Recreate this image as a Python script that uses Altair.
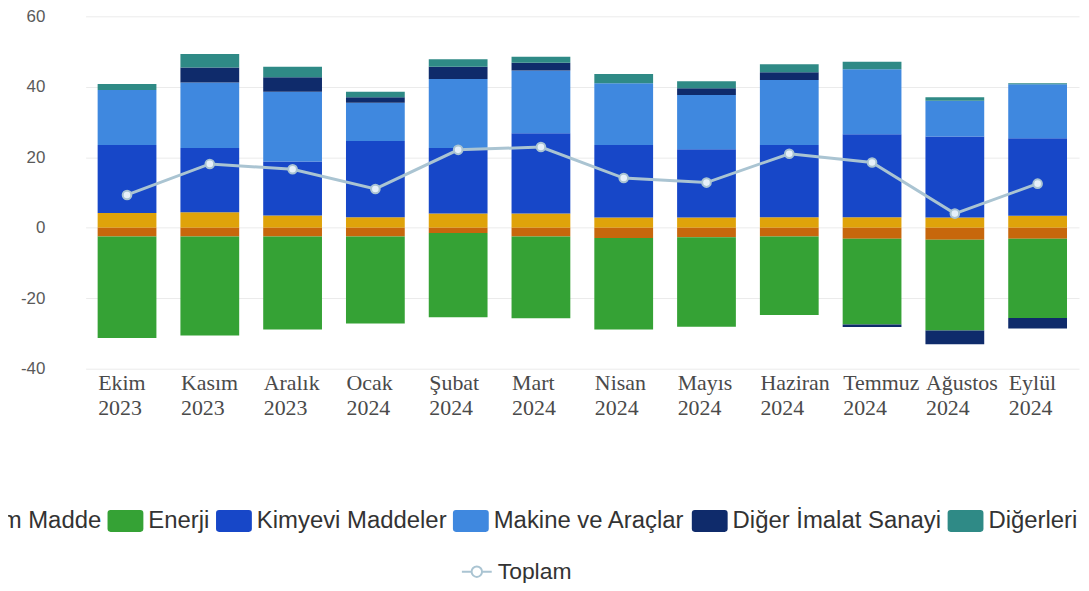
import altair as alt
import pandas as pd

months = ["Ekim 2023", "Kasım 2023", "Aralık 2023", "Ocak 2024", "Şubat 2024", "Mart 2024",
          "Nisan 2024", "Mayıs 2024", "Haziran 2024", "Temmuz 2024", "Ağustos 2024", "Eylül 2024"]

names = ["Tarım Ürünleri", "Ham Madde", "Enerji", "Kimyevi Maddeler", "Makine ve Araçlar",
         "Diğer İmalat Sanayi", "Diğerleri"]
colors = ["#dfa30a", "#c7670c", "#35a235", "#1747c8", "#3f88df", "#0f2b6b", "#2f8a86"]

tarim = [4.2, 4.4, 3.5, 3.0, 4.0, 4.0, 2.9, 2.9, 3.0, 3.0, 2.9, 3.4]
ham_madde = [-2.5, -2.5, -2.5, -2.5, -1.5, -2.5, -2.9, -2.7, -2.5, -3.1, -3.4, -3.1]
enerji = [-28.8, -28.1, -26.4, -24.7, -23.9, -23.2, -26.0, -25.4, -22.3, -24.4, -25.8, -22.5]
kimyevi = [19.3, 18.2, 15.3, 21.6, 18.6, 22.8, 20.6, 19.4, 20.5, 23.5, 23.0, 22.0]
makine = [15.6, 18.6, 19.8, 10.9, 19.6, 17.8, 17.5, 15.4, 18.4, 18.5, 10.1, 15.3]
diger_imalat = [0.0, 4.3, 4.1, 1.5, 3.5, 2.2, 0.0, 1.9, 2.2, -0.7, -3.9, -3.0]
digerleri = [1.7, 3.8, 3.0, 1.6, 2.1, 1.7, 2.6, 2.0, 2.3, 2.1, 1.0, 0.3]
toplam = [9.3, 18.1, 16.6, 11.0, 22.1, 22.9, 14.1, 12.8, 21.0, 18.5, 4.0, 12.5]

series = [tarim, ham_madde, enerji, kimyevi, makine, diger_imalat, digerleri]

rows = []
for i, (name, vals) in enumerate(zip(names, series)):
    for m, v in zip(months, vals):
        rows.append({"ay": m, "kalem": name, "deger": v, "sira": i})
df = pd.DataFrame(rows)

df_line = pd.DataFrame({"ay": months, "toplam": toplam, "seri": ["Toplam"] * len(months)})

rect_path = ("M-0.83,-0.61L0.83,-0.61Q1,-0.61,1,-0.44L1,0.44Q1,0.61,0.83,0.61"
             "L-0.83,0.61Q-1,0.61,-1,0.44L-1,-0.44Q-1,-0.61,-0.83,-0.61Z")
line_path = ("M-1,0L-0.35,0M0.35,0L1,0M-0.35,0A0.35,0.35,0,1,0,0.35,0"
             "A0.35,0.35,0,1,0,-0.35,0Z")

x_enc = alt.X(
    "ay:N", sort=months,
    scale=alt.Scale(paddingInner=0.29, paddingOuter=0.145),
    axis=alt.Axis(title=None, labelExpr="split(datum.label, ' ')", labelAlign="left",
                  labelOffset=-29, labelFont="Liberation Serif", labelFontSize=22,
                  labelColor="#4a4a4a", labelLineHeight=25, labelPadding=4, ticks=False,
                  domain=False, labelAngle=0, grid=False),
)

bars = alt.Chart(df).mark_bar().encode(
    x=x_enc,
    y=alt.Y("deger:Q", stack="zero", scale=alt.Scale(domain=[-40, 60], nice=False),
            axis=alt.Axis(title=None, values=[-40, -20, 0, 20, 40, 60], labelExpr="datum.value + ''",
                          labelFont="Liberation Sans", labelFontSize=17, labelColor="#5a5a5a",
                          labelPadding=41, ticks=False, domain=False, gridColor="#ebebeb",
                          labelFlush=False, labelOverlap=False)),
    color=alt.Color("kalem:N", scale=alt.Scale(domain=names, range=colors),
                    legend=alt.Legend(orient="none", legendX=-156, legendY=489, direction="horizontal",
                                      title=None, values=names[1:], symbolType=rect_path,
                                      symbolSize=1296, symbolStrokeWidth=0, symbolOpacity=1,
                                      labelFont="Liberation Sans", labelFontSize=24,
                                      labelColor="#333", labelOffset=5, columnPadding=6,
                                      labelLimit=400)),
    order=alt.Order("sira:Q"),
)

line = alt.Chart(df_line).mark_line(strokeWidth=3).encode(
    x=alt.X("ay:N", sort=months),
    y=alt.Y("toplam:Q"),
    stroke=alt.Stroke("seri:N", scale=alt.Scale(domain=["Toplam"], range=["#aac4d2"]),
                      legend=alt.Legend(orient="none", legendX=377, legendY=542, title=None,
                                        symbolType=line_path, symbolSize=900, symbolStrokeWidth=2,
                                        symbolFillColor="white", labelFont="Liberation Sans",
                                        labelFontSize=23, labelColor="#333", labelOffset=5)),
)

points = alt.Chart(df_line).mark_circle(size=75, color="#e6f0f9", stroke="#aac4d2",
                                        strokeWidth=2, opacity=1).encode(
    x=alt.X("ay:N", sort=months),
    y=alt.Y("toplam:Q"),
)

chart = alt.layer(bars, line, points).properties(
    width=998, height=354,
    autosize=alt.AutoSizeParams(type="none"),
    padding={"left": 78, "top": 7, "right": 2, "bottom": 214},
    background="white",
).configure_view(stroke=None)

chart.save("out.html", embed_options={"renderer": "svg", "actions": False})
